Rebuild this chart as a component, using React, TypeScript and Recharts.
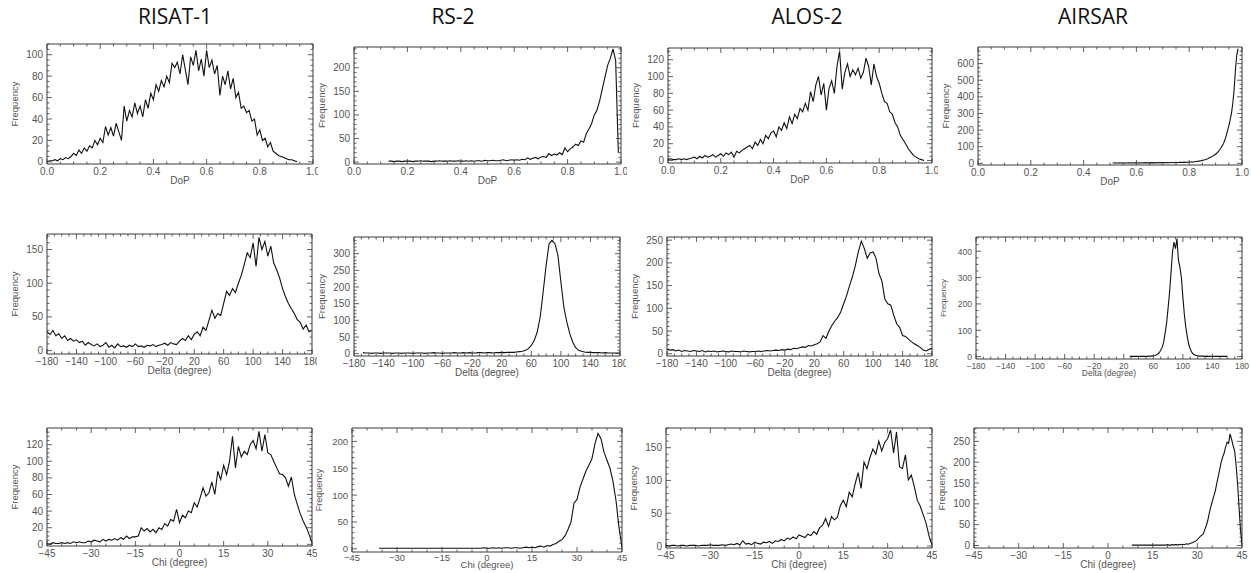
import React from 'react';
import { LineChart, Line, XAxis, YAxis, ReferenceArea } from 'recharts';

// ---- titles ----
const sensors = ['RISAT-1', 'RS-2', 'ALOS-2', 'AIRSAR'];
const titleCenters = [175, 453, 807, 1093];

// ---- tick labels ----
const dopTicks = [0, 0.2, 0.4, 0.6, 0.8, 1.0];
const deltaTicks = [-180, -140, -100, -60, -20, 20, 60, 100, 140, 180];
const chiTicks = [-45, -30, -15, 0, 15, 30, 45];

// ---- DoP histograms ----
const dopRisat = [
  0, 1, 1, 2, 1, 3, 2, 4, 3, 5,
  8, 6, 11, 8, 13, 10, 15, 13, 20, 16,
  22, 18, 33, 25, 32, 24, 36, 28, 20, 52,
  38, 48, 42, 55, 45, 52, 42, 58, 50, 64,
  58, 72, 66, 76, 70, 80, 74, 92, 88, 93,
  82, 100, 86, 72, 98, 90, 104, 85, 96, 80,
  104, 88, 95, 82, 90, 62, 80, 72, 85, 68,
  78, 60, 65, 50, 52, 46, 48, 38, 40, 25,
  30, 20, 22, 14, 18, 10, 8, 6, 5, 4,
  3, 2, 2, 1, 0,
];
const dopRs2 = [
  2, 2, 1, 2, 2, 1, 2, 2, 2, 1,
  2, 2, 3, 2, 2, 2, 1, 2, 2, 3,
  2, 2, 2, 3, 2, 2, 3, 2,
  2, 3, 2, 3, 2, 3, 3, 2, 4, 3,
  3, 4, 3, 3, 4, 5, 3, 4, 5, 4,
  5, 4, 6, 5, 9, 6, 8, 10, 7, 11,
  12, 10, 18, 14, 17, 15, 20, 16, 30, 22,
  28, 32, 38, 35, 45, 42, 60, 70, 82, 100,
  110, 130, 155, 180, 205, 220, 240, 215, 20,
];
const dopAlos = [
  1, 2, 1, 1, 2, 1, 2, 1, 2, 3,
  4, 2, 5, 3, 6, 4, 5, 7, 4, 6,
  8, 5, 9, 7, 10, 4, 11, 9, 12, 14,
  16, 18, 14, 22, 18, 25, 20, 30, 26, 33,
  35, 28, 40, 36, 45, 38, 52, 44, 55, 50,
  62, 58, 68, 60, 82, 70, 90, 100, 78, 92,
  60, 86, 95, 80, 112, 130, 85, 105, 115, 100,
  108, 102, 110, 98, 105, 122, 112, 90, 115, 100,
  92, 80, 70, 68, 58, 55, 45, 40, 30, 25,
  20, 14, 10, 6, 4, 2, 1, 0,
];
const dopAirsar = [
  2, 2, 3, 2, 2, 3, 2, 3, 2, 2,
  3, 2, 3, 3, 2, 3, 2, 3, 3, 2,
  3, 3, 2, 3, 3, 4, 3, 3, 3, 4,
  3, 4, 3, 3, 4, 4, 3, 4, 4, 5,
  4, 4, 5, 4, 5, 5, 4, 5, 6, 5,
  5, 6, 6, 5, 7, 6, 7, 8, 7,
  8, 9, 8, 10, 11, 12, 13, 15, 16, 18,
  20, 22, 25, 28, 32, 36, 40, 45, 50, 55,
  62, 70, 80, 92, 105, 120, 140, 165, 195, 225,
  260, 300, 360, 440, 560, 650, 690,
];

// ---- Delta histograms ----
const deltaRisat = [
  28, 24, 30, 22, 25, 18, 22, 15, 18, 14,
  16, 12, 14, 8, 12, 9, 7, 10, 6, 8,
  12, 5, 8, 4, 10, 6, 7, 5, 8, 6,
  10, 6, 7, 5, 8, 7, 9, 6, 8, 9,
  11, 8, 12, 10, 9, 14, 18, 15, 22, 16,
  24, 28, 22, 35, 30, 45, 60, 48, 55, 52,
  70, 88, 82, 92, 86, 100, 112, 128, 145, 138,
  160, 125, 168, 150, 162, 140, 155, 130, 120, 108,
  92, 80, 70, 62, 55, 46, 42, 32, 38, 28,
  30,
];
const deltaRs2 = [
  3, 2, 2, 1, 2, 2, 1, 2, 2, 2,
  1, 2, 2, 1, 2, 2, 2, 1, 2, 2,
  2, 1, 2, 2, 3, 2, 2, 1, 2, 2,
  2, 3, 2, 2, 3, 2, 3, 2, 2, 3,
  3, 2, 3, 3, 2, 3, 3, 4, 3, 4,
  4, 4, 5, 6, 7, 10, 15, 25, 40, 65,
  110, 185, 265, 330, 340, 330, 295, 215, 140, 95,
  60, 35, 18, 10, 7, 5, 4, 4, 3, 3,
  3, 2, 3, 2, 2, 2, 2, 2,
];
const deltaAlos = [
  10, 8, 9, 6, 8, 5, 7, 6, 5, 7,
  6, 5, 7, 4, 6, 5, 6, 4, 5, 6,
  5, 4, 6, 5, 5, 4, 6, 5, 4, 5,
  5, 6, 5, 6, 7, 6, 7, 8, 7, 9,
  8, 10, 9, 12, 11, 13, 15, 14, 18, 17,
  20, 22, 26, 40, 34, 50, 62, 72, 80, 92,
  110, 128, 150, 170, 195, 225, 248, 232, 210, 222,
  224, 210, 176, 160, 120, 110, 107, 85, 66, 58,
  40, 38, 32, 26, 22, 18, 14, 8, 6, 10,
  12,
];
const deltaAirsar = [
  1, 1, 1, 1, 1, 1, 1, 1, 1, 1,
  1, 1, 1, 2, 2, 2, 3, 4, 6, 10,
  15, 24, 35, 55, 90, 128, 185, 245, 320, 400,
  435, 410, 448, 365, 340, 300, 225, 160, 110, 75,
  45, 28, 17, 10, 6, 4, 3, 2, 2, 2,
  2, 1, 2, 1, 1, 1, 1, 1, 1, 1,
  1, 1, 1, 1, 1, 1, 1,
];

// ---- Chi histograms ----
const chiRisat = [
  1, 0, 2, 1, 1, 2, 1, 2, 1, 3,
  2, 3, 2, 2, 4, 3, 5, 4, 3, 6,
  4, 6, 5, 7, 5, 8, 6, 10, 7, 9,
  9, 10, 20, 16, 19, 15, 18, 14, 20, 18,
  25, 22, 30, 28, 42, 26, 35, 32, 40, 38,
  50, 45, 56, 68, 58, 62, 75, 60, 88, 78,
  95, 84, 100, 130, 92, 118, 105, 112, 108, 120,
  125, 115, 136, 112, 132, 110, 108, 100, 92, 85,
  84, 80, 70, 81, 60, 48, 37, 28, 21, 12,
  2,
];
const chiRs2 = [
  1, 1, 1, 1, 1, 1, 1, 1, 1, 1,
  1, 1, 1, 1, 1, 1, 1, 1, 1, 1,
  1, 1, 1, 1, 1, 1, 1, 1, 1, 1,
  1, 1, 1, 1, 1, 2, 1, 1, 2, 1,
  2, 1, 2, 2, 1, 2, 2, 1, 2, 3,
  2, 3, 2, 4, 5, 3, 6, 5, 8, 10,
  14, 17, 24, 36, 50, 85, 92, 115, 130, 145,
  156, 168, 196, 215, 205, 180, 165, 150, 125, 90,
  40, 2,
];
const chiAlos = [
  1, 0, 1, 1, 0, 1, 1, 0, 1, 1,
  1, 0, 1, 1, 1, 2, 1, 1, 1, 2,
  1, 2, 3, 2, 4, 2, 8, 3, 4, 2,
  6, 4, 3, 6, 5, 7, 4, 8, 7, 10,
  8, 12, 10, 14, 11, 17, 15, 13, 18, 16,
  22, 18, 28, 32, 42, 30, 45, 40, 44, 62,
  70, 60, 82, 75, 95, 112, 88, 128, 118, 135,
  148, 140, 160, 145, 158, 164, 177, 142, 174, 121,
  118, 139, 101, 108, 91, 70, 61, 48, 35, 15,
  2,
];
const chiAirsar = [
  1, 1, 1, 1, 1, 1, 1, 1, 1, 1,
  1, 1, 1, 1, 1, 1, 1, 1, 1, 1,
  1, 1, 1, 1, 2, 1, 1, 2, 1, 2,
  2, 1, 3, 2, 3, 2, 3, 4, 3, 5,
  6, 7, 9, 11, 14, 18, 22, 25, 28, 38,
  48, 60, 77, 92, 105, 118, 130, 148, 165, 182,
  200, 212, 222, 236, 248, 245, 268, 255, 240, 228,
  195, 150, 93, 37, 2,
];

const AXIS = '#3a3a3a';
const TEXT = '#555';
const FONT = '"Liberation Sans", Arial, sans-serif';
const minus = (v: number) => String(v).replace('-', '\u2212');

type Panel = {
  id: string;
  values: number[];
  start: number;
  step: number;
  xDomain: [number, number];
  xMajor: number[];
  xSub: number;
  xLabel: string;
  fmt: (v: number) => string;
  yDomain: [number, number];
  yMajor: number[];
  ySub: number;
  box: { left: number; top: number; w: number; h: number };
  padR: number;
  fs: number;
  tickDy?: number;
  labelDy?: number;
};

function buildTicks(major: number[], sub: number, lo: number, hi: number) {
  const step = major[1] - major[0];
  const out: number[] = [];
  major.forEach((m) => {
    for (let k = 0; k < sub; k++) {
      const t = m + (k * step) / sub;
      if (t >= lo - 1e-9 && t <= hi + 1e-9) out.push(t);
    }
  });
  return out;
}

const isMajor = (major: number[], v: number) =>
  major.some((m) => Math.abs(m - v) < Math.abs(major[1] - major[0]) * 1e-4);

const range = (a: number, b: number, s: number) => {
  const r: number[] = [];
  for (let v = a; v <= b; v += s) r.push(v);
  return r;
};

const dopFmt = (v: number) => v.toFixed(1);

const panels: Panel[] = [
  { id: 'dop-risat', values: dopRisat, start: 0, step: 0.01, xDomain: [0, 1], xMajor: dopTicks, xSub: 4, xLabel: 'DoP', fmt: dopFmt,
    yDomain: [-2, 110], yMajor: range(0, 100, 20), ySub: 4, box: { left: 47, top: 44, w: 266, h: 120 }, padR: 5, fs: 10 },
  { id: 'dop-rs2', values: dopRs2, start: 0.13, step: 0.01, xDomain: [0, 1], xMajor: dopTicks, xSub: 4, xLabel: 'DoP', fmt: dopFmt,
    yDomain: [-4, 244], yMajor: range(0, 200, 50), ySub: 5, box: { left: 354, top: 47, w: 267, h: 117 }, padR: 6, fs: 10 },
  { id: 'dop-alos', values: dopAlos, start: 0, step: 0.01, xDomain: [0, 1], xMajor: dopTicks, xSub: 4, xLabel: 'DoP', fmt: dopFmt,
    yDomain: [-3, 134], yMajor: range(0, 120, 20), ySub: 4, box: { left: 668, top: 48, w: 264, h: 115 }, padR: 6, fs: 10 },
  { id: 'dop-airsar', values: dopAirsar, start: 0.51, step: 0.005, xDomain: [0, 1], xMajor: dopTicks, xSub: 4, xLabel: 'DoP', fmt: dopFmt,
    yDomain: [-10, 700], yMajor: range(0, 600, 100), ySub: 4, box: { left: 978, top: 47, w: 264, h: 118 }, padR: 9, fs: 10 },

  { id: 'delta-risat', values: deltaRisat, start: -180, step: 4, xDomain: [-180, 180], xMajor: deltaTicks, xSub: 4, xLabel: 'Delta (degree)', fmt: minus,
    yDomain: [-5, 173], yMajor: range(0, 150, 50), ySub: 5, box: { left: 47, top: 234, w: 265, h: 120 }, padR: 5, fs: 10 },
  { id: 'delta-rs2', values: deltaRs2, start: -168, step: 4, xDomain: [-180, 180], xMajor: deltaTicks, xSub: 4, xLabel: 'Delta (degree)', fmt: minus,
    yDomain: [-7, 350], yMajor: range(0, 300, 50), ySub: 5, box: { left: 354, top: 237, w: 266, h: 119 }, padR: 6, fs: 10 },
  { id: 'delta-alos', values: deltaAlos, start: -180, step: 4, xDomain: [-180, 180], xMajor: deltaTicks, xSub: 4, xLabel: 'Delta (degree)', fmt: minus,
    yDomain: [-5, 257], yMajor: range(0, 250, 50), ySub: 5, box: { left: 667, top: 237, w: 265, h: 119 }, padR: 6, fs: 10 },
  { id: 'delta-airsar', values: deltaAirsar, start: 28, step: 2, xDomain: [-180, 180], xMajor: deltaTicks, xSub: 4, xLabel: 'Delta (degree)', fmt: minus,
    yDomain: [-9, 454], yMajor: range(0, 400, 100), ySub: 4, box: { left: 976, top: 237, w: 266, h: 122 }, padR: 8, fs: 8.5, tickDy: 10, labelDy: 17 },

  { id: 'chi-risat', values: chiRisat, start: -45, step: 1, xDomain: [-45, 45], xMajor: chiTicks, xSub: 3, xLabel: 'Chi (degree)', fmt: minus,
    yDomain: [-2, 140], yMajor: range(0, 120, 20), ySub: 4, box: { left: 47, top: 428, w: 265, h: 118 }, padR: 5, fs: 10 },
  { id: 'chi-rs2', values: chiRs2, start: -36, step: 1, xDomain: [-45, 45], xMajor: chiTicks, xSub: 3, xLabel: 'Chi (degree)', fmt: minus,
    yDomain: [-6, 225], yMajor: range(0, 200, 50), ySub: 5, box: { left: 352, top: 428, w: 270, h: 124 }, padR: 5, fs: 9.5, tickDy: 9, labelDy: 16 },
  { id: 'chi-alos', values: chiAlos, start: -45, step: 1, xDomain: [-45, 45], xMajor: chiTicks, xSub: 3, xLabel: 'Chi (degree)', fmt: minus,
    yDomain: [-3, 180], yMajor: range(0, 150, 50), ySub: 5, box: { left: 666, top: 428, w: 266, h: 120 }, padR: 5, fs: 10 },
  { id: 'chi-airsar', values: chiAirsar, start: 8, step: 0.5, xDomain: [-45, 45], xMajor: chiTicks, xSub: 3, xLabel: 'Chi (degree)', fmt: minus,
    yDomain: [-6, 282], yMajor: range(0, 250, 50), ySub: 5, box: { left: 974, top: 428, w: 268, h: 120 }, padR: 9, fs: 10 },
];

const LEFT = 47;
const TOP = 3;
const XH = 30;

function Histogram({ p }: { p: Panel }) {
  const data = p.values.map((v, i) => ({ x: p.start + i * p.step, y: v }));
  const W = LEFT + p.box.w + p.padR;
  const H = TOP + p.box.h + XH;
  const xTicks = buildTicks(p.xMajor, p.xSub, p.xDomain[0], p.xDomain[1]);
  const yTicks = buildTicks(p.yMajor, p.ySub, p.yDomain[0], p.yDomain[1]);
  const tickDy = p.tickDy ?? 11;
  const labelDy = p.labelDy ?? 20;

  const xTick = (props: any) => {
    const { x, y, payload } = props;
    const major = isMajor(p.xMajor, payload.value);
    const len = major ? 5 : 2.5;
    return (
      <g>
        <line x1={x} y1={y} x2={x} y2={y - len} stroke={AXIS} strokeWidth={0.8} />
        <line x1={x} y1={y - p.box.h} x2={x} y2={y - p.box.h + len} stroke={AXIS} strokeWidth={0.8} />
        {major && (
          <text x={x} y={y + tickDy} textAnchor="middle" fontSize={p.fs} fill={TEXT} fontFamily={FONT}>
            {p.fmt(payload.value)}
          </text>
        )}
      </g>
    );
  };

  const yTick = (props: any) => {
    const { x, y, payload } = props;
    const major = isMajor(p.yMajor, payload.value);
    const len = major ? 5 : 2.5;
    return (
      <g>
        <line x1={x} y1={y} x2={x + len} y2={y} stroke={AXIS} strokeWidth={0.8} />
        <line x1={x + p.box.w} y1={y} x2={x + p.box.w - len} y2={y} stroke={AXIS} strokeWidth={0.8} />
        {major && (
          <text x={x - 4} y={y + 3.5} textAnchor="end" fontSize={p.fs} fill={TEXT} fontFamily={FONT}>
            {payload.value}
          </text>
        )}
      </g>
    );
  };

  const xLabel = (lp: any) => {
    const vb = lp.viewBox || {};
    return (
      <text x={vb.x + vb.width / 2} y={vb.y + labelDy} textAnchor="middle" fontSize={p.fs} fill={TEXT} fontFamily={FONT}>
        {p.xLabel}
      </text>
    );
  };

  const yLabel = (lp: any) => {
    const vb = lp.viewBox || {};
    const cx = vb.x + 15;
    const cy = vb.y + vb.height / 2;
    return (
      <text x={cx} y={cy} transform={`rotate(-90 ${cx} ${cy})`} textAnchor="middle" dominantBaseline="middle" fontSize={p.fs - 0.5} fill={TEXT} fontFamily={FONT}>
        Frequency
      </text>
    );
  };

  return (
    <div style={{ position: 'absolute', left: p.box.left - LEFT, top: p.box.top - TOP, width: W, height: H, overflow: 'hidden' }}>
      <LineChart width={W} height={H} data={data} margin={{ top: TOP, right: p.padR, bottom: 0, left: 0 }}>
        <XAxis
          type="number"
          dataKey="x"
          domain={p.xDomain}
          ticks={xTicks}
          interval={0}
          allowDataOverflow
          axisLine={false}
          tickLine={false}
          tickSize={0}
          tickMargin={0}
          height={XH}
          tick={xTick}
          label={xLabel}
        />
        <YAxis
          type="number"
          domain={p.yDomain}
          ticks={yTicks}
          interval={0}
          allowDataOverflow
          axisLine={false}
          tickLine={false}
          tickSize={0}
          tickMargin={0}
          width={LEFT}
          tick={yTick}
          label={yLabel}
        />
        <ReferenceArea
          x1={p.xDomain[0]}
          x2={p.xDomain[1]}
          y1={p.yDomain[0]}
          y2={p.yDomain[1]}
          fill="none"
          stroke={AXIS}
          strokeWidth={1}
        />
        <Line type="linear" dataKey="y" stroke="#111" strokeWidth={1.1} dot={false} isAnimationActive={false} />
      </LineChart>
    </div>
  );
}

export default function App() {
  return (
    <div style={{ position: 'absolute', left: 0, top: 0, width: 1251, height: 573, background: '#fff', overflow: 'hidden' }}>
      {sensors.map((s, i) => (
        <div
          key={s}
          style={{
            position: 'absolute',
            left: titleCenters[i] - 80,
            width: 160,
            top: 2,
            textAlign: 'center',
            fontFamily: '"Open Sans", "Noto Sans", sans-serif',
            fontSize: 21,
            color: '#111',
          }}
        >
          {s}
        </div>
      ))}
      {panels.map((p) => (
        <Histogram key={p.id} p={p} />
      ))}
    </div>
  );
}
